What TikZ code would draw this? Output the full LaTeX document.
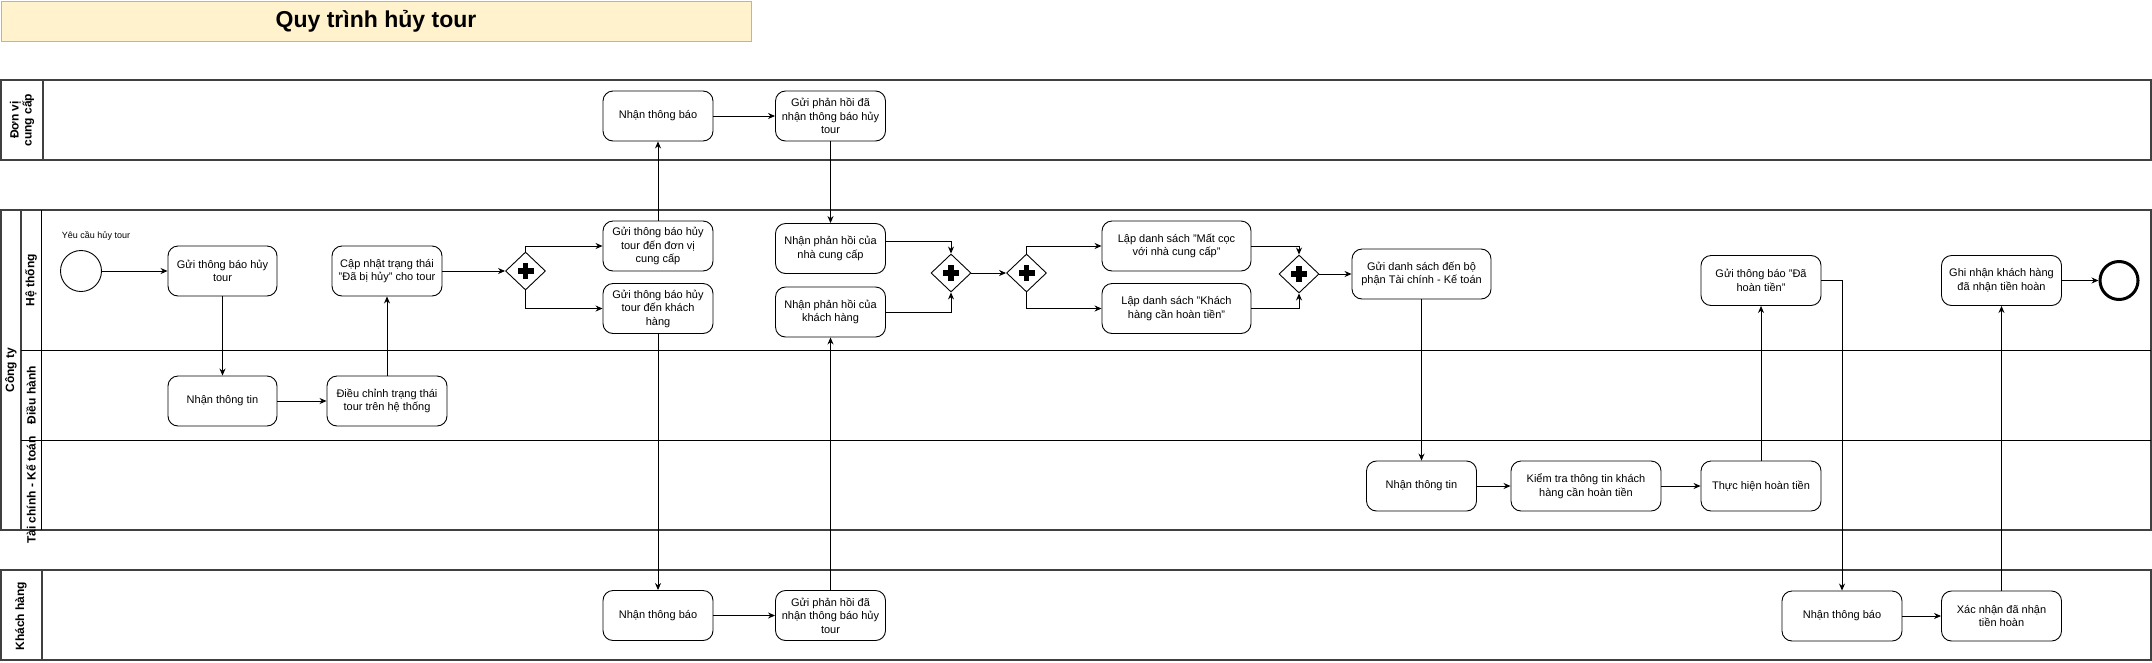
\documentclass[tikz,border=0pt]{standalone}
\usepackage{fontspec}
\setmainfont{Liberation Sans}
\usetikzlibrary{positioning,shapes.geometric,arrows.meta}
\definecolor{titlefill}{HTML}{FFF2CC}
\definecolor{titleline}{HTML}{D6B656}

\begin{document}
\begin{tikzpicture}[x=1pt, y=-1pt, font=\fontsize{11}{13.5}\selectfont,
	task/.style={draw, line width=0.9pt, rounded corners=10pt, align=center, minimum width=110pt, minimum height=50pt, inner sep=1pt},
	gate/.style={diamond, draw, line width=0.9pt, minimum width=40pt, minimum height=38pt, inner sep=0pt,
		path picture={\fill ([shift={(-8pt,-2.75pt)}]path picture bounding box.center) rectangle ++(16pt,5.5pt);
			\fill ([shift={(-2.75pt,-8pt)}]path picture bounding box.center) rectangle ++(5.5pt,16pt);}},
	pool/.style={draw=black!75, line width=1.6pt},
	lane/.style={rotate=90, align=center, font=\fontsize{12}{13}\selectfont\bfseries},
	flow/.style={-{Stealth[length=7pt,width=6pt]}, line width=0.9pt}]
	\useasboundingbox (0,0) rectangle (2152,662);

	\node[draw=titleline, fill=titlefill, line width=0.9pt, minimum width=750pt, minimum height=40pt, font=\fontsize{23}{26}\selectfont\bfseries] (title) at (376,21) {Quy trình hủy tour};

	\draw[pool] (1,80) rectangle (2151,160);
	\draw[pool] (43,80) -- (43,160);
	\node[lane] (p1) at (22,120) {Đơn vị\\cung cấp};

	\draw[pool] (1,210) rectangle (2151,530);
	\draw[pool] (21,210) -- (21,530);
	\draw[line width=0.9pt] (41,210) -- (41,530);
	\draw[line width=0.9pt] (21,350) -- (2151,350);
	\draw[line width=0.9pt] (21,440) -- (2151,440);
	\node[lane] (p2) at (11,370) {Công ty};
	\node[lane] (l1) at (31,280) {Hệ thống};
	\node[lane] (l2) at (31,395) {Điều hành};
	\node[lane] (l3) at (31,490) {Tài chính - Kế toán};

	\draw[pool] (1,570) rectangle (2151,660);
	\draw[pool] (42,570) -- (42,660);
	\node[lane] (p3) at (21,616) {Khách hàng};

	\node[circle, draw, line width=0.9pt, minimum size=41pt] (start) at (81,271) {};
	\node[font=\fontsize{9}{10}\selectfont] (req) at (96,236) {Yêu cầu hủy tour};
	\node[task, minimum width=109pt] (sendCancel) at (222.5,271) {Gửi thông báo hủy\\tour};
	\node[task] (update) at (387,271) {Cập nhật trạng thái\\"Đã bị hủy" cho tour};
	\node[task, minimum width=109pt] (recvInfo) at (222.5,401) {Nhận thông tin};
	\node[task, minimum width=120pt] (adjust) at (387,401) {Điều chỉnh trạng thái\\tour trên hệ thống};
	\node[gate] (gw1) at (525.5,271) {};
	\node[task] (sendSupp) at (658,246) {Gửi thông báo hủy\\tour đến đơn vị\\cung cấp};
	\node[task] (sendCust) at (658,308.5) {Gửi thông báo hủy\\tour đến khách\\hàng};
	\node[task] (suppRecv) at (658,116) {Nhận thông báo};
	\node[task] (suppReply) at (830.5,116) {Gửi phản hồi đã\\nhận thông báo hủy\\tour};
	\node[task] (fbSupp) at (830.5,248.5) {Nhận phản hồi của\\nhà cung cấp};
	\node[task] (fbCust) at (830.5,312) {Nhận phản hồi của\\khách hàng};
	\node[gate] (gw2) at (951,273) {};
	\node[gate] (gw3) at (1026.5,273) {};
	\node[task, minimum width=149pt] (list1) at (1176.5,246) {Lập danh sách "Mất cọc\\với nhà cung cấp"};
	\node[task, minimum width=149pt] (list2) at (1176.5,308.5) {Lập danh sách "Khách\\hàng cần hoàn tiền"};
	\node[gate] (gw4) at (1299,274) {};
	\node[task, minimum width=139pt] (sendList) at (1421.5,274) {Gửi danh sách đến bộ\\phận Tài chính - Kế toán};
	\node[task] (tcRecv) at (1421.5,486) {Nhận thông tin};
	\node[task, minimum width=150pt] (check) at (1586,486) {Kiểm tra thông tin khách\\hàng cần hoàn tiền};
	\node[task, minimum width=120pt] (refund) at (1761,486) {Thực hiện hoàn tiền};
	\node[task, minimum width=120pt] (notifyRef) at (1761,280.5) {Gửi thông báo "Đã\\hoàn tiền"};
	\node[task, minimum width=120pt] (record) at (2001.5,280.5) {Ghi nhận khách hàng\\đã nhận tiền hoàn};
	\node[circle, draw, line width=3pt, minimum size=38pt] (endEv) at (2119,280.5) {};
	\node[task] (custRecv) at (658,615.5) {Nhận thông báo};
	\node[task] (custReply) at (830.5,615.5) {Gửi phản hồi đã\\nhận thông báo hủy\\tour};
	\node[task, minimum width=120pt] (custNotify) at (1842,616) {Nhận thông báo};
	\node[task, minimum width=120pt] (confirm) at (2001.5,616) {Xác nhận đã nhận\\tiền hoàn};

	\draw[flow] (start) -- (sendCancel);
	\draw[flow] (sendCancel) -- (recvInfo);
	\draw[flow] (recvInfo) -- (adjust);
	\draw[flow] (adjust) -- (update);
	\draw[flow] (update) -- (gw1);
	\draw[flow] (gw1.north) |- (sendSupp.west);
	\draw[flow] (gw1.south) |- (sendCust.west);
	\draw[flow] (sendSupp) -- (suppRecv);
	\draw[flow] (suppRecv) -- (suppReply);
	\draw[flow] (suppReply) -- (fbSupp);
	\draw[flow] (sendCust) -- (custRecv);
	\draw[flow] (custRecv) -- (custReply);
	\draw[flow] (custReply) -- (fbCust);
	\draw[flow] ([yshift=7pt]fbSupp.east) -| (gw2.north);
	\draw[flow] (fbCust.east) -| (gw2.south);
	\draw[flow] (gw2) -- (gw3);
	\draw[flow] (gw3.north) |- (list1.west);
	\draw[flow] (gw3.south) |- (list2.west);
	\draw[flow] (list1.east) -| (gw4.north);
	\draw[flow] (list2.east) -| (gw4.south);
	\draw[flow] (gw4) -- (sendList);
	\draw[flow] (sendList) -- (tcRecv);
	\draw[flow] (tcRecv) -- (check);
	\draw[flow] (check) -- (refund);
	\draw[flow] (refund) -- (notifyRef);
	\draw[flow] (notifyRef.east) -| (custNotify.north);
	\draw[flow] (custNotify) -- (confirm);
	\draw[flow] (confirm) -- (record);
	\draw[flow] (record) -- (endEv);
\end{tikzpicture}
\end{document}
